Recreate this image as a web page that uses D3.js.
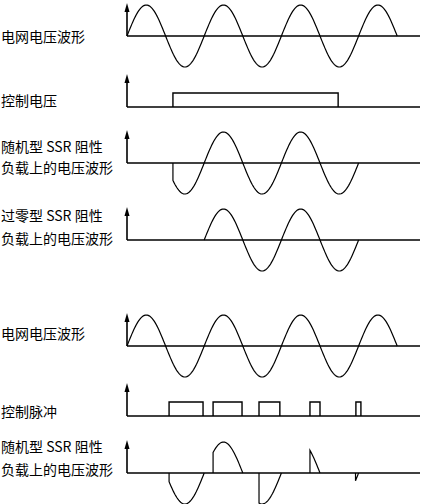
<!DOCTYPE html>
<html><head><meta charset="utf-8">
<script src="https://cdn.jsdelivr.net/npm/d3@7"></script>
<style>body{margin:0;background:#fff}svg{display:block}text{font-family:"Noto Sans CJK SC","Noto Sans",sans-serif;font-size:14px;fill:#000}</style>
</head><body>
<script>
const period = 20; // ms
const gridWave = [[0, 70]];
const controlVoltage = [[11.9, 54.7]];
const randomSegs = [[11.9, 60]];
const zeroSegs = [[20, 60]];
const pulses = [[10.9, 19.7], [22.3, 29.8], [34.2, 39.6], [47.4, 50], [59.3, 60.6]];
const pulseSegs = [[10.9, 20], [22.3, 30], [34.2, 40], [47.4, 50], [59.2, 59.95]];
const panels = [
  {label: ["电网电压波形"], base: 36, type: "wave", segs: gridWave},
  {label: ["控制电压"], base: 107, type: "pulse", segs: controlVoltage},
  {label: ["随机型 SSR 阻性", "负载上的电压波形"], base: 163, type: "wave", segs: randomSegs},
  {label: ["过零型 SSR 阻性", "负载上的电压波形"], base: 240, type: "wave", segs: zeroSegs},
  {label: ["电网电压波形"], base: 346, type: "wave", segs: gridWave},
  {label: ["控制脉冲"], base: 416, type: "pulse", segs: pulses},
  {label: ["随机型 SSR 阻性", "负载上的电压波形"], base: 473, type: "wave", segs: pulseSegs}
];
const labelY = [[42], [106], [152, 173], [221, 244], [339], [417], [452, 475]];

const svg = d3.select("body").append("svg").attr("width", 427).attr("height", 504);
const x = d3.scaleLinear().domain([0, 10]).range([127, 165.6]);

panels.forEach((p, i) => {
  const y = d3.scaleLinear().domain([-1, 1]).range([p.base + 31, p.base - 31]);
  const g = svg.append("g");
  const y0 = y(0), x0 = x(0);
  g.append("line").attr("x1", x0).attr("x2", 420).attr("y1", y0).attr("y2", y0)
    .attr("stroke", "#000").attr("stroke-width", 1.6);
  g.append("line").attr("x1", x0).attr("x2", x0).attr("y1", y0).attr("y2", y0 - 26)
    .attr("stroke", "#000").attr("stroke-width", 1.6);
  g.append("path").attr("d", `M${x0 - 2.5},${y0 - 24}L${x0},${y0 - 33}L${x0 + 2.5},${y0 - 24}Z`).attr("fill", "#000");
  const line = d3.line().x(d => x(d[0])).y(d => y(d[1]));
  p.segs.forEach(([a, b]) => {
    let pts;
    if (p.type === "wave") {
      pts = [[a, 0]];
      for (let t = a; t < b; t += 0.25) pts.push([t, Math.sin(2 * Math.PI * t / period)]);
      pts.push([b, Math.sin(2 * Math.PI * b / period)], [b, 0]);
    } else {
      pts = [[a, 0], [a, 0.45], [b, 0.45], [b, 0]];
    }
    g.append("path").attr("d", line(pts)).attr("fill", "none").attr("stroke", "#000")
      .attr("stroke-width", p.type === "wave" ? 1.2 : 1.4);
  });
  p.label.forEach((s, k) => g.append("text").attr("x", 1).attr("y", labelY[i][k]).text(s));
});
</script>
</body></html>
